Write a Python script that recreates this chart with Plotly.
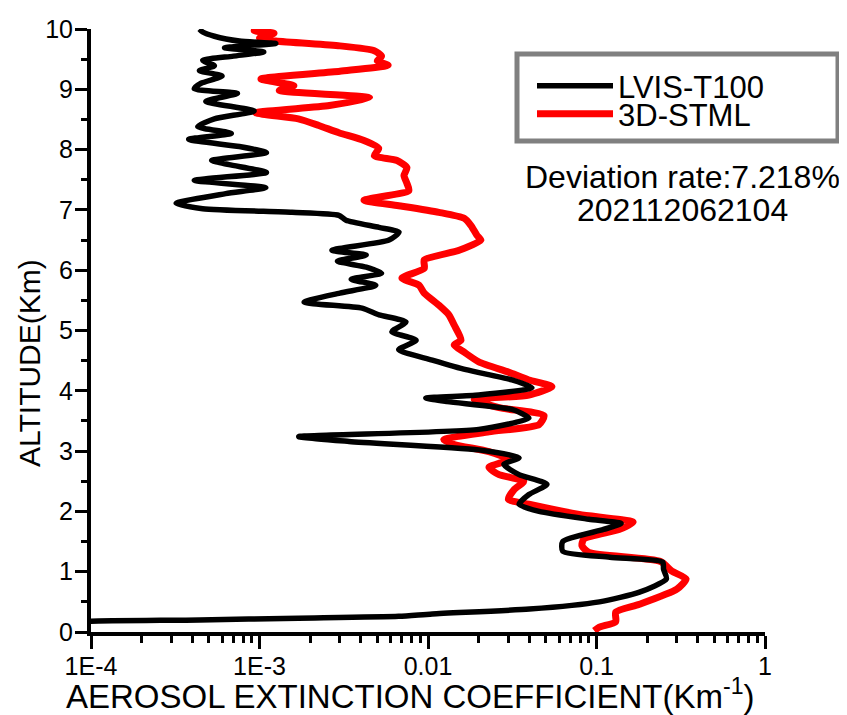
import plotly.graph_objects as go

# LVIS-T100 profile (altitude km, extinction km^-1)
black_alt = [10.0, 9.95, 9.88, 9.80, 9.76, 9.72, 9.69, 9.62, 9.55, 9.48, 9.39, 9.31, 9.22, 9.10, 9.01,
             8.93, 8.80, 8.64, 8.51, 8.38, 8.27, 8.17, 8.05, 7.95, 7.82, 7.75, 7.62, 7.49, 7.37, 7.27,
             7.11, 7.02, 6.96, 6.91, 6.83, 6.71, 6.63, 6.50, 6.33, 6.25, 6.15, 6.05, 5.95, 5.85, 5.75,
             5.62, 5.47, 5.37, 5.26, 5.14, 4.98, 4.84, 4.68, 4.51, 4.35, 4.18, 4.05, 3.93, 3.88, 3.82,
             3.69, 3.55, 3.36, 3.24, 3.16, 3.02, 2.89, 2.78, 2.61, 2.45, 2.28, 2.12, 2.00, 1.87, 1.80,
             1.70, 1.50, 1.34, 1.24, 1.16, 1.04, 0.88, 0.66, 0.50, 0.38, 0.30, 0.26, 0.23, 0.20, 0.18, 0.16]
black_val = [4.4e-4, 4.6e-4, 5.4e-4, 7.6e-4, 1.25e-3, 8.0e-4, 6.2e-4, 1.06e-3, 7.0e-4, 4.6e-4, 5.4e-4,
             4.4e-4, 6.0e-4, 4.5e-4, 4.1e-4, 7.4e-4, 4.8e-4, 9.3e-4, 5.4e-4, 4.3e-4, 6.8e-4, 3.8e-4,
             7.6e-4, 1.1e-3, 5.2e-4, 6.6e-4, 1.1e-3, 4.1e-4, 1.09e-3, 6.3e-4, 3.2e-4, 4.6e-4, 1.56e-3,
             2.96e-3, 3.26e-3, 5.12e-3, 6.73e-3, 5.87e-3, 2.69e-3, 4.3e-3, 2.9e-3, 4.3e-3, 5.3e-3,
             3.5e-3, 4.9e-3, 3.0e-3, 1.84e-3, 4.06e-3, 5.12e-3, 7.4e-3, 6.1e-3, 8.5e-3, 6.7e-3,
             1.06e-2, 1.68e-2, 3.15e-2, 4.14e-2, 2.0e-2, 9.7e-3, 1.3e-2, 3.15e-2, 3.97e-2, 2.0e-2,
             1.71e-3, 3.4e-3, 2.0e-2, 3.47e-2, 2.82e-2, 3.47e-2, 5.08e-2, 3.97e-2, 3.47e-2, 4.56e-2,
             0.09, 0.14, 0.11, 0.063, 0.063, 0.12, 0.247, 0.25, 0.26, 0.18, 0.104, 0.04, 0.0106,
             6.7e-3, 1.7e-3, 4.4e-4, 1.0e-4, 8e-5]

# 3D-STML profile
red_alt = [10.0, 9.97, 9.93, 9.85, 9.80, 9.72, 9.64, 9.55, 9.47, 9.40, 9.30, 9.17, 9.06, 8.98, 8.86,
           8.73, 8.61, 8.51, 8.40, 8.28, 8.15, 8.02, 7.90, 7.82, 7.70, 7.57, 7.44, 7.32, 7.16, 7.07,
           6.96, 6.86, 6.74, 6.58, 6.50, 6.33, 6.17, 6.03, 5.87, 5.75, 5.62, 5.42, 5.26, 5.09, 4.84,
           4.76, 4.64, 4.48, 4.31, 4.18, 4.07, 3.93, 3.85, 3.72, 3.59, 3.44, 3.32, 3.19, 3.11, 2.99,
           2.86, 2.73, 2.61, 2.50, 2.36, 2.20, 2.12, 1.95, 1.82, 1.70, 1.54, 1.43, 1.32, 1.17, 1.01,
           0.88, 0.71, 0.46, 0.33, 0.17, 0.08, 0.02]
red_val = [1.11e-3, 9.3e-4, 1.22e-3, 1.0e-3, 1.25e-3, 3.0e-3, 4.8e-3, 5.3e-3, 5.0e-3, 5.8e-3, 3.0e-3,
           1.02e-3, 1.6e-3, 1.31e-3, 4.5e-3, 2.6e-3, 9.5e-4, 1.7e-3, 2.25e-3, 2.96e-3, 4.17e-3,
           5.1e-3, 4.8e-3, 6.55e-3, 7.5e-3, 7.2e-3, 7.5e-3, 7.7e-3, 4.17e-3, 6.7e-3, 1.16e-2,
           1.64e-2, 1.80e-2, 1.95e-2, 2.06e-2, 1.53e-2, 9.5e-3, 9.5e-3, 7.0e-3, 8.85e-3, 9.5e-3,
           1.16e-2, 1.33e-2, 1.43e-2, 1.57e-2, 1.43e-2, 1.64e-2, 2.0e-2, 3.0e-2, 3.97e-2, 5.44e-2,
           3.97e-2, 1.88e-2, 2.64e-2, 4.88e-2, 4.56e-2, 2.3e-2, 1.24e-2, 1.43e-2, 2.3e-2, 3.0e-2,
           2.3e-2, 2.64e-2, 3.7e-2, 3.24e-2, 3.0e-2, 3.97e-2, 7.9e-2, 0.165, 0.136, 0.084, 0.082,
           0.09, 0.24, 0.28, 0.34, 0.30, 0.18, 0.13, 0.13, 0.104, 0.097]

x_tickvals = [1e-4, 1e-3, 1e-2, 1e-1, 1]
x_ticktext = ["1E-4", "1E-3", "0.01", "0.1", "1"]
x_minor_mult = [2, 3, 4, 5, 6, 7, 8, 9]
y_tickvals = list(range(0, 11))

FONT = "Liberation Sans, Arial, sans-serif"

x_minor_vals = [m * d for d in x_tickvals[:-1] for m in x_minor_mult]

fig = go.Figure()
fig.add_trace(go.Scatter(x=red_val, y=red_alt, mode="lines", name="3D-STML", legend="legend2",
                         line=dict(color="#ff0000", width=7, shape="spline", smoothing=0.6)))
fig.add_trace(go.Scatter(x=black_val, y=black_alt, mode="lines", name="LVIS-T100", legend="legend",
                         line=dict(color="#000000", width=5.5, shape="spline", smoothing=0.6)))

# page body has an 8px default margin: figure occupies 8..847 x 8..715 of the window
OFF = 8
W, H = 847 - OFF, 715 - OFF
L, R, T, B = 91 - OFF, 82, 29 - OFF, 83
pw, ph = W - L - R, H - T - B

def px_to_paper_x(px):
    return (px - OFF - L) / pw

def px_to_paper_y(py):
    return (H + OFF - B - py) / ph

legend_style = dict(xanchor="left", yanchor="middle", borderwidth=0, bgcolor="rgba(0,0,0,0)",
                    font=dict(family=FONT, size=31, color="black"), itemwidth=76)

fig.update_layout(
    width=W, height=H,
    margin=dict(l=L, r=R, t=T, b=B, autoexpand=False),
    paper_bgcolor="white", plot_bgcolor="white",
    font=dict(family=FONT, color="black", size=25),
    showlegend=True,
    legend=dict(x=px_to_paper_x(532), y=px_to_paper_y(86), **legend_style),
    legend2=dict(x=px_to_paper_x(532), y=px_to_paper_y(114), **legend_style),
    xaxis=dict(type="log", range=[-4, 0], tickvals=x_tickvals, ticktext=x_ticktext,
               showgrid=False, zeroline=False, showline=True, linecolor="black", linewidth=4,
               ticks="outside", ticklen=13, tickwidth=3, tickcolor="black",
               tickfont=dict(size=25, family=FONT), ticklabelstandoff=-4,
               minor=dict(tickvals=x_minor_vals, ticks="outside", ticklen=7, tickwidth=3,
                          tickcolor="black", showgrid=False)),
    yaxis=dict(range=[0, 10], tickvals=y_tickvals,
               showgrid=False, zeroline=False, showline=True, linecolor="black", linewidth=4,
               ticks="outside", ticklen=12, tickwidth=3, tickcolor="black",
               tickfont=dict(size=25, family=FONT), ticklabelstandoff=-3,
               minor=dict(ticks="outside", ticklen=6, tickwidth=3, tickcolor="black",
                          dtick=0.5, showgrid=False)),
)

# legend frame
fig.add_shape(type="rect", xref="paper", yref="paper",
              x0=px_to_paper_x(517), x1=px_to_paper_x(838),
              y0=px_to_paper_y(141), y1=px_to_paper_y(54),
              line=dict(color="#808080", width=5), fillcolor="white", layer="below")

fig.add_annotation(text="AEROSOL EXTINCTION COEFFICIENT(Km<sup>-1</sup>)",
                   xref="paper", yref="paper", x=px_to_paper_x(410), y=px_to_paper_y(694),
                   xanchor="center", yanchor="middle", showarrow=False,
                   font=dict(family=FONT, size=33, color="black"))
fig.add_annotation(text="ALTITUDE(Km)", textangle=-90,
                   xref="paper", yref="paper", x=px_to_paper_x(30), y=px_to_paper_y(363),
                   xanchor="center", yanchor="middle", showarrow=False,
                   font=dict(family=FONT, size=30, color="black"))
fig.add_annotation(text="Deviation rate:7.218%",
                   xref="paper", yref="paper", x=px_to_paper_x(682), y=px_to_paper_y(177),
                   xanchor="center", yanchor="middle", showarrow=False,
                   font=dict(family=FONT, size=32, color="black"))
fig.add_annotation(text="202112062104",
                   xref="paper", yref="paper", x=px_to_paper_x(682), y=px_to_paper_y(210),
                   xanchor="center", yanchor="middle", showarrow=False,
                   font=dict(family=FONT, size=32, color="black"))

fig.write_html("out.html")
